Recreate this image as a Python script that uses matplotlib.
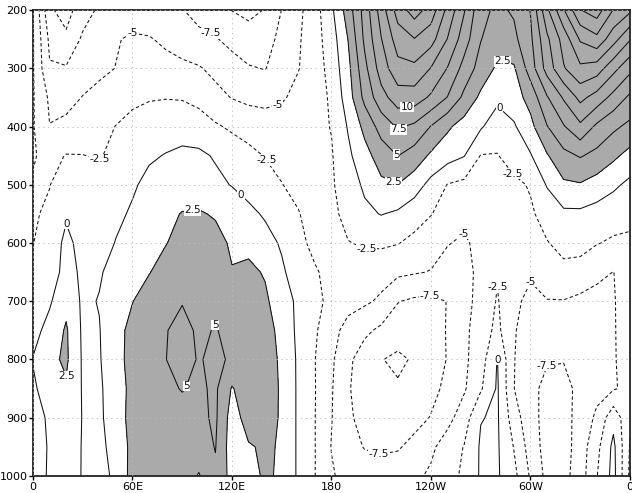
import numpy as np
import matplotlib
matplotlib.use('Agg')
import matplotlib.pyplot as plt

# longitude (deg E) and pressure levels (hPa)
lons = np.arange(0, 361, 10)
plevs = [1000, 950, 900, 850, 800, 750, 700, 650, 600, 550, 500, 450, 400, 350, 300, 250, 200]

# field values, one row per pressure level, lon 0..360 every 10 deg
u1000 = [-2.0, 0.5, 0.8, -0.1, -1.5, 0.9, 3.2, 3.5, 3.8, 4.0,
         2.3, 4.6, 1.6, 2.0, 2.7, 2.3, -0.4, -2.45, -4.7, -6.0,
         -6.5, -6.6, -6.3, -5.5, -4.6, -3.3, -2.1, 0.3, 0.3, -1.8,
         -5.3, -8.2, -8.3, -6.2, -2.6, 0.8, -5.5]
u950 = [-2.6, 0.5, 0.9, -0.1, -0.9, 1.3, 3.0, 3.6, 3.9, 4.1,
        3.9, 5.1, 1.2, 2.3, 2.8, 2.3, -0.4, -2.45, -5.1, -6.8,
        -7.6, -7.8, -7.7, -6.9, -5.5, -3.8, -2.4, 0.3, 0.3, -2.6,
        -6.1, -8.5, -8.6, -6.3, -3.2, 0.6, -5.2]
u900 = [-1.6, 0.6, 1.5, -0.1, -0.6, 1.8, 3.0, 3.6, 4.1, 4.3,
        4.4, 5.4, 1.4, 3.5, 3.2, 2.3, -0.4, -2.45, -4.9, -7.2,
        -8.1, -8.6, -8.6, -8.2, -7.4, -5.8, -3.7, -0.1, 0.3, -3.8,
        -6.7, -8.3, -8.3, -6.7, -4.5, -0.8, -4.6]
u850 = [-0.3, 0.9, 2.2, -0.2, -0.4, 1.5, 3.1, 4.1, 4.6, 5.1,
        4.6, 5.4, 2.3, 4.0, 3.3, 2.3, -0.4, -2.4, -4.8, -7.3,
        -8.6, -9.2, -9.7, -9.0, -8.1, -7.0, -5.3, -2.8, 0.3, -4.95,
        -6.8, -8.2, -8.2, -6.9, -5.8, -5.2, -4.4]
u800 = [0.1, 1.9, 2.9, -0.3, -0.2, 1.8, 3.2, 4.3, 4.95, 6.0,
        4.8, 5.6, 4.6, 4.2, 3.6, 2.1, -0.4, -2.45, -4.6, -7.0,
        -8.7, -9.9, -10.5, -9.7, -8.5, -7.4, -5.5, -3.6, 0.1, -4.9,
        -6.6, -7.3, -7.4, -6.8, -6.0, -5.2, -4.0]
u750 = [-0.8, 0.8, 2.8, -0.4, -0.1, 1.8, 3.1, 4.3, 4.9, 5.6,
        4.7, 5.1, 4.5, 4.2, 3.3, 1.9, -0.6, -2.2, -4.0, -6.0,
        -7.0, -8.0, -8.8, -8.7, -8.2, -7.4, -5.6, -3.7, -1.9, -4.8,
        -6.2, -7.0, -7.2, -6.6, -6.0, -5.2, -3.8]
u700 = [-1.3, -0.3, 1.8, -0.4, 0.1, 1.2, 2.45, 3.5, 4.4, 4.9,
        4.3, 4.6, 4.2, 3.8, 2.9, 1.2, -0.5, -1.8, -3.2, -4.0,
        -4.6, -5.4, -7.4, -7.9, -8.0, -7.45, -5.8, -4.2, -2.3, -4.5,
        -5.6, -5.1, -5.1, -5.6, -6.1, -5.2, -3.6]
u650 = [-2.1, -1.2, 0.8, -0.4, -0.2, 0.7, 1.5, 2.4, 3.4, 4.3,
        4.4, 4.0, 2.6, 3.0, 2.3, 0.4, -1.3, -2.3, -3.1, -3.4,
        -3.8, -4.1, -4.5, -4.8, -5.1, -5.8, -5.5, -4.6, -2.7, -3.0,
        -4.7, -3.7, -3.0, -3.3, -4.2, -5.05, -3.5]
u600 = [-2.55, -1.5, 0.6, -0.8, -1.0, 0.1, 0.8, 1.6, 2.4, 3.3,
        3.8, 3.2, 2.2, 1.9, 0.9, -0.3, -2.0, -3.0, -3.3, -2.6,
        -2.2, -2.1, -2.4, -3.1, -4.0, -4.9, -5.3, -4.4, -3.8, -3.5,
        -3.0, -2.6, -1.9, -1.8, -2.4, -2.8, -2.9]
u550 = [-2.7, -2.2, -0.3, -0.5, -0.6, -0.5, 0.3, 1.3, 2.0, 2.6,
        2.7, 2.3, 1.4, 0.6, -0.3, -1.3, -2.4, -3.3, -3.2, -1.6,
        -0.5, 0.1, -0.4, -1.5, -2.4, -3.6, -4.4, -4.0, -3.6, -3.1,
        -2.8, -1.7, -0.5, -0.5, -1.0, -1.6, -1.9]
u500 = [-2.7, -2.55, -1.6, -1.2, -1.0, -0.8, -0.3, 0.6, 1.1, 1.4,
        1.3, 0.5, -0.1, -0.9, -1.6, -2.45, -3.0, -3.1, -2.8, -1.2,
        0.4, 2.0, 2.45, 1.2, -0.8, -2.6, -3.1, -3.4, -3.4, -3.0,
        -2.3, 0.2, 2.1, 2.3, 1.5, 0.5, -0.6]
u450 = [-2.3, -3.2, -2.4, -2.45, -2.7, -1.8, -0.9, -0.3, 0.1, 0.4,
        0.4, -0.2, -1.1, -1.9, -2.6, -3.0, -3.2, -3.1, -2.7, -0.5,
        1.6, 3.7, 5.05, 3.9, 2.1, 1.0, 0.1, -2.6, -2.6, -1.5,
        -0.2, 2.3, 4.3, 5.2, 4.3, 3.0, 1.7]
u400 = [-2.3, -4.95, -4.3, -3.8, -3.2, -2.45, -1.8, -1.3, -1.0, -0.8,
        -1.2, -2.2, -2.9, -3.4, -3.7, -3.8, -3.7, -3.2, -2.4, 0.2,
        3.2, 6.0, 7.8, 7.0, 4.9, 2.9, 1.5, 0.3, -1.4, -0.3,
        1.8, 4.9, 7.3, 9.5, 7.0, 5.5, 4.4]
u350 = [-2.3, -5.4, -6.0, -4.9, -4.2, -3.6, -3.0, -2.7, -2.6, -2.7,
        -3.3, -4.3, -5.1, -5.6, -5.8, -5.3, -4.3, -3.4, -2.2, 1.3,
        5.7, 9.1, 11.3, 11.3, 9.6, 7.4, 4.4, 2.0, 0.6, 1.4,
        3.4, 7.3, 10.3, 13.2, 11.5, 9.2, 7.0]
u300 = [-2.3, -7.3, -7.3, -6.4, -5.6, -4.95, -4.3, -4.0, -4.1, -4.4,
        -4.8, -5.6, -6.4, -7.3, -7.6, -6.2, -5.1, -3.7, -1.6, 1.8,
        6.8, 11.2, 14.2, 14.4, 12.4, 9.9, 6.6, 4.0, 2.1, 2.2,
        6.2, 11.0, 14.8, 17.0, 16.3, 13.3, 10.7]
u250 = [-2.3, -8.0, -9.5, -7.1, -6.1, -5.2, -4.6, -4.8, -5.5, -6.3,
        -6.9, -7.3, -8.3, -9.0, -8.5, -6.8, -5.3, -3.5, -1.2, 2.55,
        8.0, 12.4, 16.2, 17.4, 16.0, 12.4, 8.7, 5.1, 3.5, 4.4,
        7.0, 12.0, 16.0, 20.3, 21.8, 18.5, 15.2]
u200 = [-2.3, -9.6, -11.0, -8.6, -7.1, -6.8, -6.5, -6.6, -6.9, -7.4,
        -8.3, -9.2, -10.05, -10.6, -9.9, -7.45, -5.6, -3.5, -0.5, 3.7,
        8.5, 13.7, 18.6, 21.2, 18.9, 14.3, 10.2, 5.7, 4.5, 5.3,
        7.6, 14.5, 19.8, 24.9, 26.3, 22.4, 20.5]

lon_ticks = [0, 60, 120, 180, 240, 300, 360]
lon_labels = ['0', '60E', '120E', '180', '120W', '60W', '0']
p_ticks = [200, 300, 400, 500, 600, 700, 800, 900, 1000]

contour_levels = np.arange(-12.5, 30, 2.5)

# where grads put its contour labels (lon, hPa)
label_pos = [(60, 227), (107, 239), (149, 377), (40, 474), (139, 462), (130, 504),
             (22, 565), (96, 538), (108, 737), (90, 843), (17.5, 855),
             (225.6, 368), (221, 408), (218, 452), (217, 497), (285, 269), (283, 363),
             (291, 478), (201, 629), (257.5, 577), (239, 690), (208, 968),
             (286, 651), (298.5, 660), (306, 805), (282, 800)]

field = np.array([u1000, u950, u900, u850, u800, u750, u700, u650, u600,
                  u550, u500, u450, u400, u350, u300, u250, u200])

plt.rcParams['lines.scale_dashes'] = False
plt.rcParams['lines.dashed_pattern'] = [2.4, 1.8]

fig = plt.figure(figsize=(6.32, 4.93), dpi=100)
ax = fig.add_axes([0.0522, 0.0345, 0.9446, 0.9452])

ax.contourf(lons, plevs, field, levels=[2.5, 100], colors=['#aaaaaa'])
styles = ['solid' if lv >= 0 else 'dashed' for lv in contour_levels]
cs = ax.contour(lons, plevs, field, levels=contour_levels, colors='#111111',
                linewidths=0.75, linestyles=styles)


def fmt(v):
    return '%g' % v


labels = ax.clabel(cs, contour_levels, inline=False, fmt=fmt, fontsize=7.5,
                   manual=label_pos)
for t in labels:
    t.set_rotation(0)
    t.set_bbox(dict(facecolor='white', edgecolor='none', pad=0.3))

ax.set_xlim(0, 360)
ax.set_ylim(1000, 200)
ax.set_xticks(lon_ticks)
ax.set_xticklabels(lon_labels)
ax.set_yticks(p_ticks)
ax.grid(True, color='#bbbbbb', linestyle=(0, (1, 2.5)), linewidth=0.6)
ax.set_axisbelow(False)
ax.tick_params(direction='out', length=3, width=1, labelsize=8, pad=1)
for s in ax.spines.values():
    s.set_linewidth(1.3)
    s.set_color('#222222')

plt.savefig('out.png', dpi=100)
plt.close()
